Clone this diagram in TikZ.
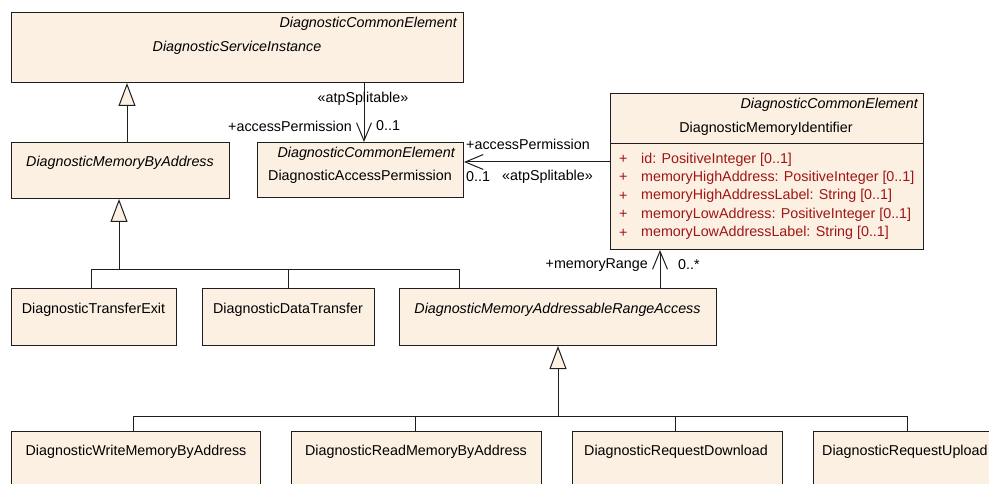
\documentclass[tikz,border=0pt]{standalone}
\usepackage{fontspec}
\setmainfont{Liberation Sans}
\usepackage{tikz}
\usetikzlibrary{arrows.meta,positioning,calc}
\definecolor{mFill}{RGB}{251,240,226}
\definecolor{mAttr}{RGB}{160,22,22}
\definecolor{mLine}{RGB}{30,30,30}
\newcommand{\umlfont}{\fontsize{14.3}{17}\selectfont}

\begin{document}
\begin{tikzpicture}[x=1pt,y=-1pt,font=\umlfont,
  cls/.style={draw=mLine, line width=1pt, fill=mFill, anchor=north west, inner sep=0pt},
  lbl/.style={inner sep=0pt},
  itname/.style={lbl, font=\umlfont\itshape},
  stereo/.style={itname, anchor=east},
  attr/.style={lbl, anchor=west, text=mAttr},
  conn/.style={draw=mLine, line width=1pt},
  gen/.style={conn, -{Triangle[length=23pt,width=17pt,fill=mFill]}},
  assoc/.style={conn, -{Straight Barb[length=18pt,width=15pt]}}]
  \useasboundingbox (0,0) rectangle (989,484);
  \clip (0,0) rectangle (989,484);

  \node[cls, minimum width=452pt, minimum height=70pt]  (svc) at (11,12) {};
  \node[cls, minimum width=218pt, minimum height=56pt]  (mba) at (11,142) {};
  \node[cls, minimum width=206pt, minimum height=55pt]  (acc) at (257,142) {};
  \node[cls, minimum width=313pt, minimum height=156pt] (mid) at (610,93) {};
  \node[cls, minimum width=165pt, minimum height=57pt]  (tx)  at (11,288) {};
  \node[cls, minimum width=172pt, minimum height=57pt]  (dt)  at (202,288) {};
  \node[cls, minimum width=317pt, minimum height=57pt]  (ra)  at (399,288) {};
  \node[cls, minimum width=249pt, minimum height=70pt]  (wm)  at (11,431) {};
  \node[cls, minimum width=250pt, minimum height=70pt]  (rm)  at (291,431) {};
  \node[cls, minimum width=210pt, minimum height=70pt]  (rd)  at (572,431) {};
  \node[cls, minimum width=250pt, minimum height=70pt]  (ru)  at (813,431) {};

  \node[stereo] (svcst) at (457,24) {DiagnosticCommonElement};
  \node[itname] (svcnm) at (237,48) {DiagnosticServiceInstance};
  \node[itname] (mbanm) at (120,163) {DiagnosticMemoryByAddress};
  \node[stereo] (accst) at (455,154) {DiagnosticCommonElement};
  \node[lbl]    (accnm) at (360,177) {DiagnosticAccessPermission};
  \node[stereo] (midst) at (918,105) {DiagnosticCommonElement};
  \node[lbl]    (midnm) at (766,129) {DiagnosticMemoryIdentifier};
  \draw[conn] (mid.north west) ++(0,51) -- ++(313,0);
  \foreach \a [count=\i] in {{id: PositiveInteger [0..1]},
      {memoryHighAddress: PositiveInteger [0..1]},
      {memoryHighAddressLabel: String [0..1]},
      {memoryLowAddress: PositiveInteger [0..1]},
      {memoryLowAddressLabel: String [0..1]}} {
    \node[attr] (plus\i) at (619,141+18.4*\i) {+};
    \node[attr] (attr\i) at (641,141+18.4*\i) {\a};
  }

  \node[lbl]    (txnm) at (93.5,310) {DiagnosticTransferExit};
  \node[lbl]    (dtnm) at (288,310) {DiagnosticDataTransfer};
  \node[itname] (ranm) at (557.5,310) {DiagnosticMemoryAddressableRangeAccess};
  \node[lbl]    (wmnm) at (136,452) {DiagnosticWriteMemoryByAddress};
  \node[lbl]    (rmnm) at (416,452) {DiagnosticReadMemoryByAddress};
  \node[lbl]    (rdnm) at (676,452) {DiagnosticRequestDownload};
  \node[lbl, anchor=west] (runm) at (822,452) {DiagnosticRequestUpload};

  \coordinate (g0) at (127,120);
  \draw[gen] (mba.north -| g0) -- (svc.south -| g0);

  \coordinate (b1) at (119,269);
  \coordinate (b1a) at (91,269);
  \coordinate (b1b) at (459,269);
  \draw[gen] (b1) -- (mba.south -| b1);
  \draw[conn] (tx.north -| b1a) -- (b1a) -- (b1b) -- (ra.north -| b1b);
  \draw[conn] (dt.north) -- (dt.north |- b1a);

  \coordinate (b2) at (558,416);
  \coordinate (b2a) at (133,416);
  \coordinate (b2b) at (907,416);
  \coordinate (b2c) at (415,416);
  \coordinate (b2d) at (675,416);
  \draw[gen] (b2) -- (ra.south -| b2);
  \draw[conn] (wm.north -| b2a) -- (b2a) -- (b2b) -- (ru.north -| b2b);
  \draw[conn] (rm.north -| b2c) -- (b2c);
  \draw[conn] (rd.north -| b2d) -- (b2d);

  \coordinate (a1) at (364,110);
  \draw[assoc] (svc.south -| a1) -- (acc.north -| a1);
  \node[lbl] (a1st) at (363,99) {«atpSplitable»};
  \node[lbl, anchor=east] (a1rl) at (352,126) {+accessPermission};
  \node[lbl, anchor=west] (a1mu) at (376,126) {0..1};

  \coordinate (a2) at (540,162);
  \draw[assoc] (mid.west |- a2) -- (acc.east |- a2);
  \node[lbl, anchor=west] (a2rl) at (466,144) {+accessPermission};
  \node[lbl, anchor=west] (a2mu) at (466,177) {0..1};
  \node[lbl, anchor=west] (a2st) at (502,177) {«atpSplitable»};

  \coordinate (a3) at (660,265);
  \draw[assoc] (ra.north -| a3) -- (mid.south -| a3);
  \node[lbl, anchor=east] (a3rl) at (648,265) {+memoryRange};
  \node[lbl, anchor=west] (a3mu) at (678,265) {0..*};
\end{tikzpicture}
\end{document}
